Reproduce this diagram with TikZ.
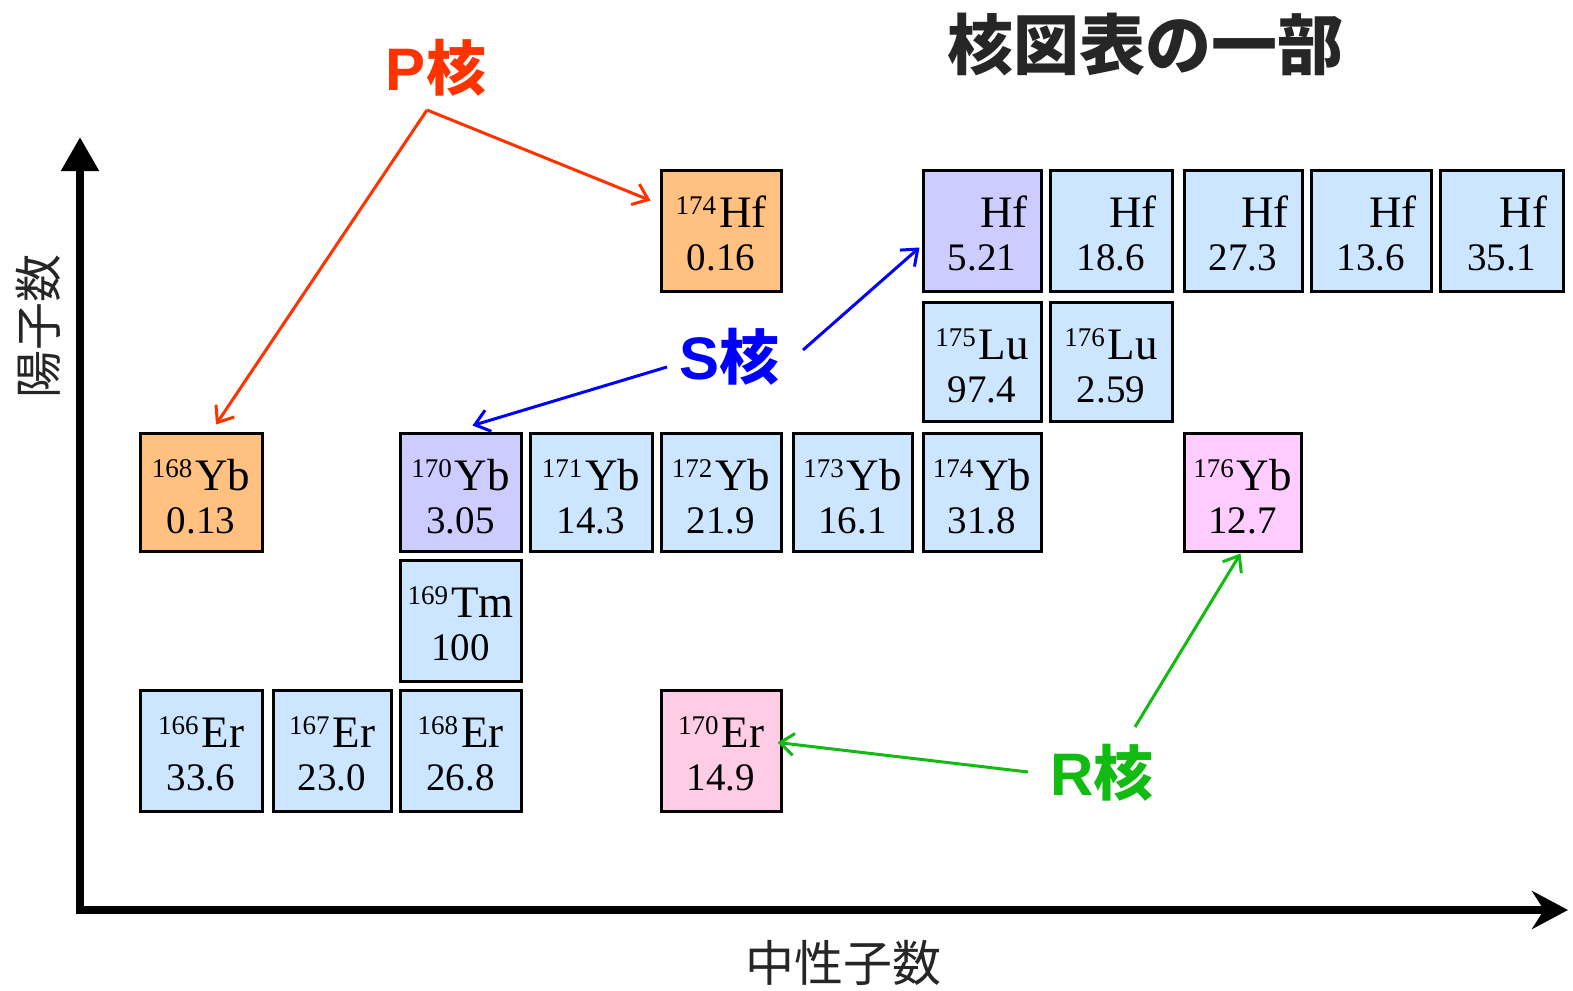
\documentclass[tikz,border=0pt]{standalone}
\usepackage{fontspec}
\setmainfont{Liberation Serif}
\newfontfamily\cjk{Noto Sans CJK JP}
\newfontfamily\lsans{Liberation Sans}
\usetikzlibrary{arrows.meta,fit,calc}
\definecolor{cOrange}{HTML}{FFC080}
\definecolor{cLav}{HTML}{CCCCFF}
\definecolor{cBlue}{HTML}{CCE6FF}
\definecolor{cPinkA}{HTML}{FFCCFF}
\definecolor{cPinkB}{HTML}{FFCCE6}
\definecolor{cP}{HTML}{FF3300}
\definecolor{cS}{HTML}{0000FF}
\definecolor{cR}{HTML}{11BB11}
\definecolor{cText}{HTML}{262626}
\tikzset{
  isobox/.style={draw=black,line width=1.5pt,inner sep=0pt},
  symtext/.style={anchor=base,inner sep=0pt,font=\fontsize{22.5}{24}\selectfont},
  numtext/.style={anchor=base,inner sep=0pt,font=\fontsize{19.5}{21}\selectfont},
  biglabel/.style={inner sep=0pt,font=\fontsize{30}{32}\selectfont},
  conn/.style={line width=1.5pt,-{Straight Barb[length=7pt,width=11pt]}},
  axis/.style={line width=4pt},
}
\newcommand\massnum[1]{\raisebox{6.5pt}{\fontsize{13.5}{14}\selectfont #1}\hspace{1.5pt}}
\newcommand\iso[9]{%
  \node[isobox,fill=#6,fit={(#2,#3)(#4,#5)}] (#1) {};
  \node[symtext] (#1s) at ($(#1.north)+(0,59)$) {\massnum{#7}#8};
  \node[numtext] (#1n) at ($(#1.north)+(0,102)$) {#9};
}
\begin{document}
\begin{tikzpicture}[x=0.5pt,y=-0.5pt]
\useasboundingbox (0,0) rectangle (1573,990);
% axes
\coordinate (origin) at (80,910);
\coordinate (ytip) at (80,137);
\coordinate (xtip) at (1568,910);
\draw[axis,-{Triangle[length=17pt,width=18pt]}] ([yshift=-2pt]origin) -- (ytip);
\draw[axis,-{Stealth[length=18pt,width=19pt,inset=6pt]}] ([xshift=-2pt]origin) -- (xtip);
% Hf row
\iso{hf174}{661}{170}{781}{291}{cOrange}{174}{Hf}{0.16}
\iso{hf176}{923}{170}{1041}{291}{cLav}{\phantom{176}}{Hf}{5.21}
\iso{hf177}{1050}{170}{1172}{291}{cBlue}{\phantom{177}}{Hf}{18.6}
\iso{hf178}{1184}{170}{1302}{291}{cBlue}{\phantom{178}}{Hf}{27.3}
\iso{hf179}{1311}{170}{1431}{291}{cBlue}{\phantom{179}}{Hf}{13.6}
\iso{hf180}{1440}{170}{1563}{291}{cBlue}{\phantom{180}}{Hf}{35.1}
% Lu row
\iso{lu175}{923}{302}{1041}{421}{cBlue}{175}{Lu}{97.4}
\iso{lu176}{1050}{302}{1172}{421}{cBlue}{176}{Lu}{2.59}
% Yb row
\iso{yb168}{140}{433}{262}{551}{cOrange}{168}{Yb}{0.13}
\iso{yb170}{400}{433}{521}{551}{cLav}{170}{Yb}{3.05}
\iso{yb171}{530}{433}{652}{551}{cBlue}{171}{Yb}{14.3}
\iso{yb172}{661}{433}{781}{551}{cBlue}{172}{Yb}{21.9}
\iso{yb173}{793}{433}{912}{551}{cBlue}{173}{Yb}{16.1}
\iso{yb174}{923}{433}{1041}{551}{cBlue}{174}{Yb}{31.8}
\iso{yb176}{1184}{433}{1301}{551}{cPinkA}{176}{Yb}{12.7}
% Tm row
\iso{tm169}{400}{560}{521}{681}{cBlue}{169}{Tm}{100}
% Er row
\iso{er166}{140}{690}{262}{811}{cBlue}{166}{Er}{33.6}
\iso{er167}{273}{690}{391}{811}{cBlue}{167}{Er}{23.0}
\iso{er168}{400}{690}{521}{811}{cBlue}{168}{Er}{26.8}
\iso{er170}{661}{690}{781}{811}{cPinkB}{170}{Er}{14.9}
% titles
\node[inner sep=0pt,text=cText,font=\cjk\bfseries\fontsize{33}{35}\selectfont] (title) at (1145,45) {核図表の一部};
\node[inner sep=0pt,text=cText,font=\cjk\fontsize{24.5}{26}\selectfont] (xlab) at (843,963) {中性子数};
\node[inner sep=0pt,text=cText,font=\cjk\fontsize{24}{26}\selectfont,rotate=90] (ylab) at (38,326) {陽子数};
% P / S / R labels
\node[biglabel,text=cP] (p) at (436,68) {{\lsans\bfseries P}{\cjk\bfseries 核}};
\node[biglabel,text=cS] (s) at (729,357) {{\lsans\bfseries S}{\cjk\bfseries 核}};
\node[biglabel,text=cR] (r) at (1102,773) {{\lsans\bfseries R}{\cjk\bfseries 核}};
% connectors
\coordinate (pfork) at (427,110);
\draw[conn,cP] (pfork) -- ($(hf174.west)+(-9,-30)$);
\draw[conn,cP] (pfork) -- ($(yb168.north)+(15,-7)$);
\coordinate (sR) at (803,350);
\coordinate (sL) at (667,367);
\draw[conn,cS] (sR) -- ($(hf176.west)+(-2,17)$);
\draw[conn,cS] (sL) -- ($(yb170.north)+(12,-6)$);
\coordinate (rL) at (1028,772);
\coordinate (rU) at (1135,727);
\draw[conn,cR] (rL) -- ($(er170.east)+(-5,-8)$);
\draw[conn,cR] (rU) -- ($(yb176.south)+(-2,1)$);
\end{tikzpicture}
\end{document}
